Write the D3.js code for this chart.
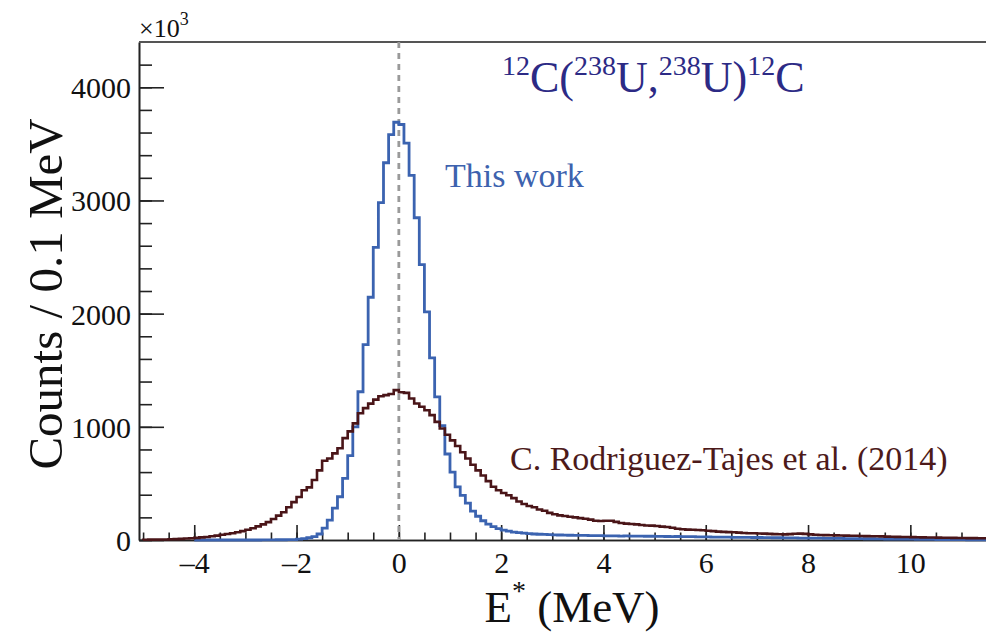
<!DOCTYPE html>
<html>
<head>
<meta charset="utf-8">
<script src="https://cdn.jsdelivr.net/npm/d3@7"></script>
<style>
  html, body { margin: 0; padding: 0; background: #fff; }
  svg { display: block; }
  svg text { font-family: "Liberation Serif", "Times New Roman", serif; }
</style>
</head>
<body>
<div id="chart"></div>
<script>
// bin width 0.1 MeV, counts in units of 10^3
var binWidth = 0.1;

// "This work" histogram, first bin starts at -4.0 MeV
var thisWorkStart = -4.0;
var thisWork = [
  0, 0, 0, 0, 0, 0, 0, 0, 0, 0,
  0, 0, 0, 1, 1, 1, 2, 2, 3, 4,
  8, 12, 20, 30, 53, 105, 176, 282, 382, 544,
  745, 1000, 1310, 1727, 2145, 2585, 2980, 3333, 3582, 3691,
  3671, 3506, 3221, 2847, 2433, 2015, 1609, 1265, 1010, 760,
  600, 470, 395, 325, 255, 210, 170, 140, 118, 100,
  88, 78, 70, 65, 60, 56, 53, 51, 49, 47,
  45, 44, 43, 42, 41, 40, 40, 39, 38, 38,
  37, 37, 36, 35, 36, 35, 34, 34, 33, 33,
  32, 32, 31, 30, 31, 30, 29, 29, 28, 27,
  27, 26, 26, 25, 25, 24, 24, 23, 23, 22,
  22, 21, 21, 20, 20, 19, 19, 18, 17, 17,
  17, 16, 16, 15, 15, 14, 14, 13, 13, 12,
  12, 11, 11, 10, 10, 9, 9, 8, 8, 7,
  7, 6, 6, 5, 5, 4, 4, 3, 3, 3,
  3, 2, 2, 2, 1, 1
];

// C. Rodriguez-Tajes et al. (2014), first bin starts at -5.0 MeV
var rodriguezStart = -5.0;
var rodriguez = [
  2, 3, 3, 4, 5, 6, 8, 10, 13, 16,
  19, 23, 27, 33, 39, 46, 53, 60, 68, 78,
  90, 104, 120, 138, 158, 185, 215, 245, 290, 335,
  380, 440, 465, 530, 615, 700, 720, 765, 810, 900,
  960, 1030, 1120, 1165, 1205, 1240, 1270, 1280, 1290, 1324,
  1305, 1300, 1250, 1206, 1177, 1147, 1103, 1044, 985, 930,
  880, 830, 775, 720, 665, 615, 570, 520, 470, 440,
  415, 395, 370, 340, 318, 300, 290, 270, 258, 240,
  228, 218, 212, 206, 200, 193, 188, 180, 170, 168,
  170, 170, 160, 150, 145, 142, 138, 132, 128, 127,
  124, 118, 115, 108, 100, 95, 92, 90, 88, 86,
  82, 78, 74, 72, 70, 68, 65, 62, 60, 59,
  57, 56, 54, 52, 51, 50, 52, 55, 56, 54,
  50, 46, 44, 43, 42, 41, 40, 39, 38, 37,
  36, 34, 33, 33, 32, 30, 29, 28, 27, 26,
  25, 24, 23, 22, 22, 21, 20, 20, 19, 18,
  18, 17, 17, 16, 16, 15
];

var xMajorTicks = [-4, -2, 0, 2, 4, 6, 8, 10];
var yMajorTicks = [0, 1000, 2000, 3000, 4000];

var W = 986, H = 639;
var padLeft = 139, padTop = 42, padBottom = 540;
var serif = '"Liberation Serif", "Times New Roman", serif';

var x = d3.scaleLinear().domain([-5.08, 12.0]).range([padLeft, padLeft + 17.08 * 51.15]);
var y = d3.scaleLinear().domain([0, 4400]).range([padBottom, padTop]);

var svg = d3.select("#chart").append("svg")
  .attr("width", W)
  .attr("height", H);

// minor ticks
var xMinor = d3.range(-10, 24).map(function (i) { return i * 0.5; });
var yMinor = d3.range(0, 22).map(function (i) { return i * 200; });

svg.append("g")
  .attr("transform", "translate(0," + padBottom + ")")
  .call(d3.axisBottom(x).tickValues(xMinor).tickSize(-7.5).tickSizeOuter(0).tickFormat(""));
svg.append("g")
  .attr("transform", "translate(" + padLeft + ",0)")
  .call(d3.axisLeft(y).tickValues(yMinor).tickSize(-13).tickSizeOuter(0).tickFormat(""));

var xAxis = svg.append("g")
  .attr("transform", "translate(0," + padBottom + ")")
  .call(d3.axisBottom(x).tickValues(xMajorTicks).tickSize(-15).tickSizeOuter(0)
    .tickFormat(function (d) { return d < 0 ? "\u2013" + Math.abs(d) : String(d); }));
var yAxis = svg.append("g")
  .attr("transform", "translate(" + padLeft + ",0)")
  .call(d3.axisLeft(y).tickValues(yMajorTicks).tickSize(-25).tickSizeOuter(0)
    .tickPadding(8).tickFormat(d3.format("d")));

svg.selectAll(".domain, .tick line").attr("stroke", "#222").attr("stroke-width", 1.6);
xAxis.selectAll("text")
  .style("font-family", serif)
  .attr("font-size", 30).attr("fill", "#111").attr("dy", "0.71em").attr("y", 12);
yAxis.selectAll("text")
  .style("font-family", serif)
  .attr("font-size", 30).attr("fill", "#111").attr("dy", "0.35em");

// top frame line
svg.append("line")
  .attr("x1", padLeft).attr("x2", W + 10)
  .attr("y1", padTop).attr("y2", padTop)
  .attr("stroke", "#555").attr("stroke-width", 2);

// dashed line at E* = 0
svg.append("line")
  .attr("x1", x(0)).attr("x2", x(0))
  .attr("y1", padTop).attr("y2", padBottom)
  .attr("stroke", "#9a9a9a").attr("stroke-width", 2.8)
  .attr("stroke-dasharray", "6,5");

function histPoints(start, values) {
  var pts = [[start, 0]];
  values.forEach(function (v, i) { pts.push([start + i * binWidth, v]); });
  pts.push([start + values.length * binWidth, values[values.length - 1]]);
  return pts;
}

var step = d3.line()
  .x(function (d) { return x(d[0]); })
  .y(function (d) { return y(d[1]); })
  .curve(d3.curveStepAfter);

svg.append("path")
  .attr("d", step(histPoints(thisWorkStart, thisWork)))
  .attr("fill", "none")
  .attr("stroke", "#3b63b0")
  .attr("stroke-width", 2.8);

svg.append("path")
  .attr("d", step(histPoints(rodriguezStart, rodriguez)))
  .attr("fill", "none")
  .attr("stroke", "#4a1518")
  .attr("stroke-width", 2.6);

// exponent label
var expo = svg.append("text")
  .attr("x", padLeft).attr("y", 37)
  .attr("font-size", 26).attr("fill", "#111");
expo.append("tspan").text("\u00d710");
expo.append("tspan").attr("font-size", 18).attr("dy", -12).text("3");

// axis titles
svg.append("text")
  .attr("x", 572).attr("y", 622)
  .attr("text-anchor", "middle")
  .attr("font-size", 45).attr("fill", "#111")
  .call(function (t) {
    t.append("tspan").text("E");
    t.append("tspan").attr("font-size", 28).attr("dy", -22).text("*");
    t.append("tspan").attr("dy", 22).text(" (MeV)");
  });

svg.append("text")
  .attr("transform", "translate(62,294) rotate(-90)")
  .attr("text-anchor", "middle")
  .attr("font-size", 49).attr("fill", "#111")
  .text("Counts / 0.1 MeV");

// reaction label
var title = svg.append("text")
  .attr("x", 502).attr("y", 92)
  .attr("font-size", 44).attr("fill", "#2c2a85");
function sup(t, s) { t.append("tspan").attr("font-size", 28).attr("dy", -17).text(s); }
function main(t, s) { t.append("tspan").attr("font-size", 44).attr("dy", 17).text(s); }
sup(title, "12"); main(title, "C(");
sup(title, "238"); main(title, "U,");
sup(title, "238"); main(title, "U)");
sup(title, "12"); main(title, "C");

svg.append("text")
  .attr("x", 445).attr("y", 187)
  .attr("font-size", 34).attr("fill", "#3d62ae")
  .text("This work");

svg.append("text")
  .attr("x", 510).attr("y", 470)
  .attr("font-size", 34).attr("fill", "#4d1a1a")
  .text("C. Rodriguez-Tajes et al. (2014)");
</script>
</body>
</html>
